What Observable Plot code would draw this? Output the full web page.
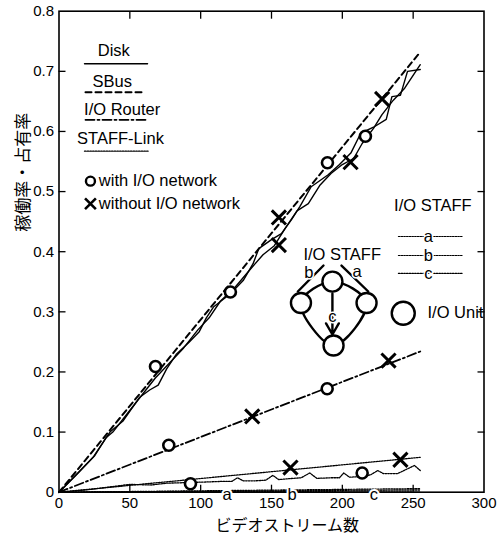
<!DOCTYPE html>
<html><head><meta charset="utf-8">
<script src="https://cdn.jsdelivr.net/npm/d3@7"></script>
<script src="https://cdn.jsdelivr.net/npm/@observablehq/plot@0.6"></script>
<style>
body{margin:0;background:#fff}
#chart svg{font-family:"Liberation Sans",Arial,Helvetica,sans-serif;background:#fff}
</style>
</head><body><div id="chart"></div>
<script>
// ---- data (x = video streams, y = utilization) ----
const diskWithX = [0,10,24,36,45,57,64,70,76,83,92,99,104,109,121,130,137,141,150,157,164,170,178,190,198,206,213,222,231,235,241,246,255];
const diskWithY = [0,0.024,0.058,0.1,0.118,0.158,0.17,0.178,0.205,0.23,0.25,0.267,0.29,0.308,0.33,0.352,0.38,0.405,0.42,0.43,0.453,0.475,0.508,0.528,0.545,0.564,0.597,0.607,0.62,0.658,0.66,0.7,0.703];
const diskWithoutX = [0,12,25,33,38,48,58,68,78,88,98,106,114,124,134,144,152,160,168,176,184,192,200,208,214,222,228,236,244,255];
const diskWithoutY = [0,0.028,0.06,0.09,0.1,0.13,0.16,0.19,0.215,0.24,0.27,0.29,0.318,0.34,0.368,0.395,0.41,0.44,0.468,0.48,0.51,0.53,0.545,0.555,0.58,0.605,0.628,0.652,0.672,0.711];
const sbusX = [0,255];
const sbusY = [0,0.732];
const routerX = [0,255];
const routerY = [0,0.234];
const linkWithoutX = [0,255];
const linkWithoutY = [0,0.058];
const linkWithX = [0,20,50,65,76,90,104,115,122,126,130,139,146,151,155,165,171,177,182,192,198,201,205,214,220,225,229,239,251,255];
const linkWithY = [0,0.004,0.013,0.012,0.015,0.016,0.017,0.018,0.018,0.024,0.019,0.019,0.02,0.028,0.021,0.023,0.024,0.032,0.023,0.024,0.024,0.032,0.025,0.026,0.029,0.036,0.031,0.031,0.0445,0.036];
const staffX = [0,255];
const staffAY = [0,0.006];
const staffBY = [0,0.004];
const staffCY = [0,0.002];
const circleX = [68.1,77.5,92.8,121.0,189.5,216.3,189.3,214.0];
const circleY = [0.209,0.078,0.014,0.333,0.548,0.592,0.172,0.032];
const crossX = [155.2,155.2,205.8,228.1,163.4,241.0,136.4,232.6];
const crossY = [0.457,0.411,0.549,0.654,0.041,0.054,0.126,0.219];
const xTicks = [0,50,100,150,200,250,300];
const yTicks = [0,0.1,0.2,0.3,0.4,0.5,0.6,0.7,0.8];
const abcLabels = ["a","b","c"];
const abcX = [118.7,164.6,222.2];

const pts = (xs, ys) => xs.map((x, i) => ({x, y: ys[i]}));
const F = "Liberation Sans, Arial, sans-serif";
const LS = 16.5;

const chart = Plot.plot({
  width: 497, height: 538,
  marginLeft: 58.5, marginRight: 13.5, marginTop: 10.7, marginBottom: 46.3,
  x: {domain: [0, 300]},
  y: {domain: [0, 0.8]},
  style: {fontFamily: F, color: "black", background: "white"},
  marks: [
    // data lines
    Plot.line(pts(staffX, staffAY), {x: "x", y: "y", stroke: "black", strokeWidth: 1.2, strokeDasharray: "1.5,1.2"}),
    Plot.line(pts(staffX, staffBY), {x: "x", y: "y", stroke: "black", strokeWidth: 1.2, strokeDasharray: "1.5,1.2"}),
    Plot.line(pts(staffX, staffCY), {x: "x", y: "y", stroke: "black", strokeWidth: 1.2, strokeDasharray: "1.5,1.2"}),
    Plot.line(pts(linkWithX, linkWithY), {x: "x", y: "y", stroke: "black", strokeWidth: 1.3, strokeDasharray: "1.5,1.2"}),
    Plot.line(pts(linkWithoutX, linkWithoutY), {x: "x", y: "y", stroke: "black", strokeWidth: 1.3, strokeDasharray: "1.5,1.2"}),
    Plot.line(pts(routerX, routerY), {x: "x", y: "y", stroke: "black", strokeWidth: 1.8, strokeDasharray: "9,3,2,3"}),
    Plot.line(pts(sbusX, sbusY), {x: "x", y: "y", stroke: "black", strokeWidth: 2, strokeDasharray: "6,4"}),
    Plot.line(pts(diskWithX, diskWithY), {x: "x", y: "y", stroke: "black", strokeWidth: 1.4}),
    Plot.line(pts(diskWithoutX, diskWithoutY), {x: "x", y: "y", stroke: "black", strokeWidth: 1.4}),
    // markers
    Plot.dot(pts(circleX, circleY), {x: "x", y: "y", r: 5.5, stroke: "black", strokeWidth: 2.6, fill: "white"}),
    Plot.dot(pts(crossX, crossY), {x: "x", y: "y", r: 6.5, symbol: "times", stroke: "black", strokeWidth: 3}),
    // frame & axes
    Plot.frame({stroke: "black", strokeWidth: 1.6}),
    Plot.axisX(xTicks.slice(1, -1), {anchor: "bottom", tickSize: -7, fill: "none", label: null, strokeWidth: 1.3}),
    Plot.axisX(xTicks.slice(1, -1), {anchor: "top", tickSize: -7, fill: "none", label: null, strokeWidth: 1.3}),
    Plot.axisY(yTicks.slice(1, -1), {anchor: "left", tickSize: -7, fill: "none", label: null, strokeWidth: 1.3}),
    Plot.axisY(yTicks.slice(1, -1), {anchor: "right", tickSize: -7, fill: "none", label: null, strokeWidth: 1.3}),
    Plot.axisX(xTicks, {anchor: "bottom", tickSize: 0, tickPadding: 5, label: null, fontSize: 15, fill: "black"}),
    Plot.axisY(yTicks, {anchor: "left", tickSize: 0, tickPadding: 5, label: null, fontSize: 15, fill: "black",
      tickFormat: d => d === 0 ? "0" : d.toFixed(1)}),
    // a b c on the axis
    Plot.text(abcX.map((x, i) => ({x, t: abcLabels[i]})), {x: "x", y: () => 0, text: "t", dy: 3, fontSize: LS, fill: "black", stroke: "white", strokeWidth: 4}),
    // axis titles
    Plot.text([{t: "稼働率・占有率", y: 0.532}], {y: "y", text: "t", frameAnchor: "left", textAnchor: "middle", lineAnchor: "middle", dx: -35.5, rotate: -90, fontSize: 17, fill: "black", fontFamily: "Noto Sans CJK JP"}),
    Plot.text([{t: "ビデオストリーム数", x: 161.1}], {x: "x", text: "t", frameAnchor: "bottom", textAnchor: "middle", lineAnchor: "middle", dy: 34, fontSize: 16, fill: "black", fontFamily: "Noto Sans CJK JP"}),
    // top-left legend
    Plot.text([{t: "Disk", x: 38.7, y: 0.7335}, {t: "SBus", x: 37.6, y: 0.682}, {t: "I/O Router", x: 44.6, y: 0.636}, {t: "STAFF-Link", x: 43.4, y: 0.5878}],
      {x: "x", y: "y", text: "t", fontSize: LS, fill: "black"}),
    Plot.line([{x: 18, y: 0.7125}, {x: 62.5, y: 0.7125}], {x: "x", y: "y", stroke: "black", strokeWidth: 1.4}),
    Plot.line([{x: 18.7, y: 0.6653}, {x: 59.6, y: 0.6653}], {x: "x", y: "y", stroke: "black", strokeWidth: 2, strokeDasharray: "6,4"}),
    Plot.line([{x: 18.7, y: 0.6194}, {x: 62.5, y: 0.6194}], {x: "x", y: "y", stroke: "black", strokeWidth: 1.8, strokeDasharray: "9,3,2,3"}),
    Plot.line([{x: 18, y: 0.5672}, {x: 63, y: 0.5672}], {x: "x", y: "y", stroke: "black", strokeWidth: 1.3, strokeDasharray: "1.5,1.2"}),
    Plot.dot([{x: 22.2, y: 0.5173}], {x: "x", y: "y", r: 4.5, stroke: "black", strokeWidth: 2.4, fill: "white"}),
    Plot.dot([{x: 22.2, y: 0.4797}], {x: "x", y: "y", r: 5, symbol: "times", stroke: "black", strokeWidth: 2.6}),
    Plot.text([{t: "with I/O network", x: 28.1, y: 0.5173}, {t: "without I/O network", x: 28.1, y: 0.4797}],
      {x: "x", y: "y", text: "t", textAnchor: "start", fontSize: LS, fill: "black"}),
    // right legend: I/O STAFF a b c
    Plot.text([{t: "I/O STAFF", x: 263.9, y: 0.4768}], {x: "x", y: "y", text: "t", fontSize: LS, fill: "black"}),
    Plot.line([{x: 239.6, y: 0.4253}, {x: 284.8, y: 0.4253}], {x: "x", y: "y", stroke: "black", strokeWidth: 1.2, strokeDasharray: "1.5,1.2"}),
    Plot.line([{x: 239.6, y: 0.3937}, {x: 284.8, y: 0.3937}], {x: "x", y: "y", stroke: "black", strokeWidth: 1.2, strokeDasharray: "1.5,1.2"}),
    Plot.line([{x: 239.6, y: 0.3638}, {x: 284.8, y: 0.3638}], {x: "x", y: "y", stroke: "black", strokeWidth: 1.2, strokeDasharray: "1.5,1.2"}),
    Plot.text([{t: "a", y: 0.4253}, {t: "b", y: 0.3937}, {t: "c", y: 0.3638}], {x: () => 260.8, y: "y", text: "t", fontSize: LS, fill: "black", stroke: "white", strokeWidth: 3}),
    // diagram
    Plot.line([{x: 193.0, y: 0.3503}, {x: 217.1, y: 0.3147}, {x: 193.8, y: 0.244}, {x: 170.8, y: 0.3147}],
      {x: "x", y: "y", curve: "catmull-rom-closed", stroke: "black", strokeWidth: 2.4}),
    Plot.arrow([{x1: 186.7, y1: 0.377, x2: 168.6, y2: 0.3338, bend: -35}, {x1: 199.4, y1: 0.377, x2: 218.3, y2: 0.3338, bend: 35}],
      {x1: "x1", y1: "y1", x2: "x2", y2: "y2", bend: d => d.bend, stroke: "black", strokeWidth: 2.4, headLength: 8, inset: 0}),
    Plot.arrow([{x1: 193.0, y1: 0.3305, x2: 193.0, y2: 0.2623}],
      {x1: "x1", y1: "y1", x2: "x2", y2: "y2", stroke: "black", strokeWidth: 2.4, headLength: 8, inset: 0}),
    Plot.dot([{x: 193.0, y: 0.3503}, {x: 170.8, y: 0.3147}, {x: 217.1, y: 0.3147}, {x: 193.8, y: 0.244}],
      {x: "x", y: "y", r: 10, stroke: "black", strokeWidth: 2.4, fill: "white"}),
    Plot.text([{t: "I/O STAFF", x: 199.9, y: 0.395}], {x: "x", y: "y", text: "t", fontSize: LS, fill: "black"}),
    Plot.text([{t: "b", x: 176.3, y: 0.3654}, {t: "a", x: 210.5, y: 0.3662}, {t: "c", x: 193.0, y: 0.2922}],
      {x: "x", y: "y", text: "t", fontSize: LS, fill: "black", stroke: "white", strokeWidth: 3}),
    Plot.dot([{x: 243, y: 0.2977}], {x: "x", y: "y", r: 11.5, stroke: "black", strokeWidth: 2.4, fill: "white"}),
    Plot.text([{t: "I/O Unit", x: 260.1, y: 0.2977}], {x: "x", y: "y", text: "t", textAnchor: "start", fontSize: LS, fill: "black"})
  ]
});
document.getElementById("chart").appendChild(chart);
</script>
</body></html>
